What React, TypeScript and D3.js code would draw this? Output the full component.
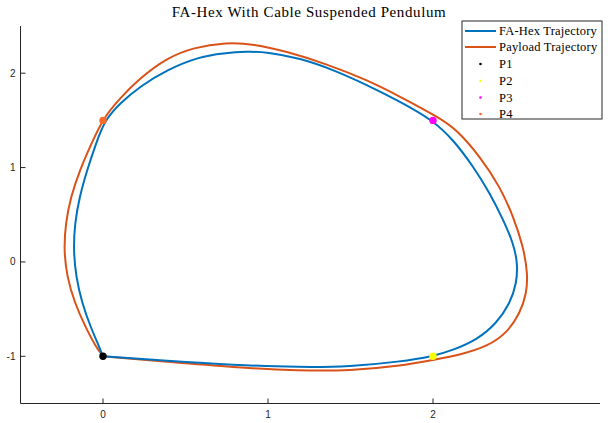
import React from "react";
import * as d3 from "d3";

// FA-Hex trajectory, P1 -> P2 -> P3 -> P4 -> P1
const hexX = [0, 0.386, 0.79, 1.194, 1.497, 1.8, 2.0, 2.123, 2.265, 2.386, 2.467, 2.507, 2.513, 2.487, 2.426, 2.345, 2.244, 2.123, 2.0, 1.8, 1.598, 1.396, 1.194, 0.992, 0.871, 0.729, 0.588, 0.386, 0.224, 0.103, 0.01, -0.041, -0.096, -0.142, -0.171, -0.179, -0.164, -0.127, -0.076, -0.025, 0];
const hexY = [-1, -1.047, -1.092, -1.117, -1.11, -1.057, -1.0, -0.933, -0.827, -0.65, -0.438, -0.226, -0.014, 0.198, 0.445, 0.729, 1.011, 1.294, 1.5, 1.7, 1.877, 2.036, 2.16, 2.224, 2.23, 2.213, 2.177, 2.036, 1.859, 1.683, 1.5, 1.262, 0.976, 0.692, 0.41, 0.127, -0.156, -0.438, -0.686, -0.891, -1];

// Payload trajectory
const loadX = [0, 0.386, 0.79, 1.194, 1.497, 1.8, 2.002, 2.182, 2.333, 2.448, 2.527, 2.568, 2.574, 2.547, 2.487, 2.406, 2.285, 2.144, 2.042, 1.8, 1.598, 1.356, 1.113, 0.911, 0.75, 0.547, 0.386, 0.224, 0.103, 0.002, -0.069, -0.14, -0.195, -0.227, -0.237, -0.219, -0.171, -0.107, -0.044, 0];
const loadY = [-1, -1.057, -1.117, -1.153, -1.153, -1.103, -1.039, -0.976, -0.891, -0.753, -0.544, -0.332, -0.12, 0.162, 0.48, 0.798, 1.117, 1.4, 1.524, 1.753, 1.93, 2.097, 2.23, 2.309, 2.326, 2.273, 2.16, 1.948, 1.736, 1.524, 1.259, 0.976, 0.692, 0.41, 0.127, -0.156, -0.438, -0.686, -0.898, -1];

// waypoints
const pointNames = ["P1", "P2", "P3", "P4"];
const pointX = [0, 2, 2, 0];
const pointY = [-1, -1, 1.5, 1.5];
const pointColors = ["#000000", "#ffff00", "#ff00ff", "#ff6929"];

const xTicks = [0, 1, 2];
const yTicks = [-1, 0, 1, 2];

const W = 608;
const H = 423;
const left = 20.5;
const right = 598;
const top = 26;
const bottom = 403.5;

export default function App() {
  const x = d3.scaleLinear().domain([-0.5, 3]).range([left, right]);
  const y = d3.scaleLinear().domain([-1.5, 2.5]).range([bottom, top]);

  const line = d3
    .line<[number, number]>()
    .x((d) => x(d[0]))
    .y((d) => y(d[1]))
    .curve(d3.curveBasis);

  const hexPath = line(hexX.map((v, i) => [v, hexY[i]]) as [number, number][]) || "";
  const loadPath = line(loadX.map((v, i) => [v, loadY[i]]) as [number, number][]) || "";

  const axisColor = "#262626";
  const serif = "'Liberation Serif', 'Times New Roman', serif";
  const sans = "'Liberation Sans', Arial, sans-serif";

  // legend layout
  const lgX = 462;
  const lgY = 21;
  const lgW = 140;
  const lgH = 98;
  const rowY = [31, 47, 64, 81, 97.5, 114];
  const legendLines = [
    { name: "FA-Hex Trajectory", color: "#0072bd" },
    { name: "Payload Trajectory", color: "#d95319" },
  ];

  return (
    <svg width={W} height={H} style={{ position: "absolute", left: 0, top: 0, background: "#fff" }}>
      <text x={309} y={17} textAnchor="middle" fontFamily={serif} fontSize={15} letterSpacing={0.6} fill="#000">
        FA-Hex With Cable Suspended Pendulum
      </text>

      {/* axes */}
      <line x1={left} x2={left} y1={top} y2={bottom} stroke={axisColor} strokeWidth={1} />
      <line x1={left} x2={right + 2} y1={bottom} y2={bottom} stroke={axisColor} strokeWidth={1} />
      {xTicks.map((t) => (
        <g key={"x" + t}>
          <line x1={x(t)} x2={x(t)} y1={bottom} y2={bottom - 5} stroke={axisColor} />
          <text x={x(t)} y={bottom + 14} textAnchor="middle" fontFamily={sans} fontSize={10} fill={axisColor}>
            {t}
          </text>
        </g>
      ))}
      {yTicks.map((t) => (
        <g key={"y" + t}>
          <line x1={left} x2={left + 5} y1={y(t)} y2={y(t)} stroke={axisColor} />
          <text x={left - 5} y={y(t) + 3.5} textAnchor="end" fontFamily={sans} fontSize={10} fill={axisColor}>
            {t}
          </text>
        </g>
      ))}

      {/* trajectories */}
      <path d={loadPath} fill="none" stroke="#d95319" strokeWidth={2} />
      <path d={hexPath} fill="none" stroke="#0072bd" strokeWidth={2} />

      {pointX.map((v, i) => (
        <circle key={pointNames[i]} cx={x(v)} cy={y(pointY[i])} r={3.7} fill={pointColors[i]} />
      ))}

      {/* legend */}
      <rect x={lgX} y={lgY} width={lgW} height={lgH} fill="#fff" stroke={axisColor} strokeWidth={1} />
      {legendLines.map((d, i) => (
        <g key={d.name}>
          <line x1={465} x2={496} y1={rowY[i]} y2={rowY[i]} stroke={d.color} strokeWidth={2} />
          <text x={499} y={rowY[i] + 4} fontFamily={serif} fontSize={12.5} letterSpacing={0.2} fill="#000">
            {d.name}
          </text>
        </g>
      ))}
      {pointNames.map((n, i) => (
        <g key={"lg" + n}>
          <circle cx={480.5} cy={rowY[i + 2]} r={1.3} fill={pointColors[i]} />
          <text x={499} y={rowY[i + 2] + 4} fontFamily={serif} fontSize={12.5} letterSpacing={0.2} fill="#000">
            {n}
          </text>
        </g>
      ))}
    </svg>
  );
}
